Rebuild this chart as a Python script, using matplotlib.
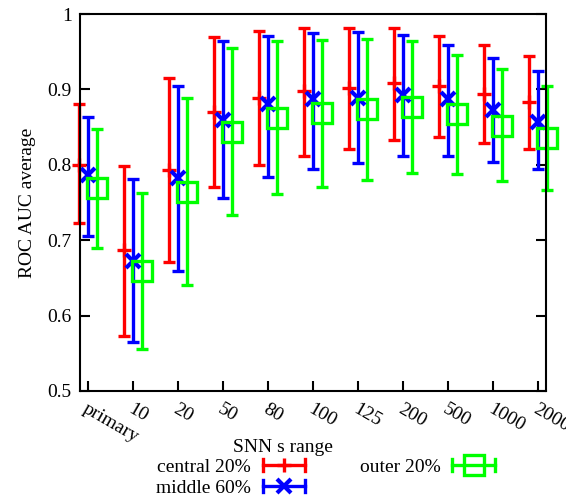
import matplotlib
matplotlib.use("Agg")
import matplotlib.pyplot as plt
import numpy as np
from matplotlib.lines import Line2D
from matplotlib.legend_handler import HandlerBase

plt.rcParams['font.family'] = ['Liberation Serif', 'DejaVu Serif']
plt.rcParams['font.size'] = 14

categories = ["primary", "10", "20", "50", "80", "100", "125", "200", "500", "1000", "2000"]

central_mean = [0.800, 0.687, 0.793, 0.870, 0.889, 0.898, 0.902, 0.908, 0.904, 0.894, 0.883]
central_low = [0.723, 0.573, 0.671, 0.771, 0.800, 0.812, 0.821, 0.833, 0.837, 0.829, 0.821]
central_high = [0.881, 0.799, 0.915, 0.969, 0.978, 0.981, 0.981, 0.981, 0.971, 0.959, 0.944]

middle_mean = [0.787, 0.673, 0.783, 0.859, 0.880, 0.887, 0.889, 0.893, 0.887, 0.873, 0.857]
middle_low = [0.705, 0.565, 0.659, 0.756, 0.784, 0.794, 0.802, 0.812, 0.812, 0.804, 0.794]
middle_high = [0.864, 0.781, 0.904, 0.964, 0.971, 0.975, 0.976, 0.972, 0.959, 0.941, 0.924]

outer_mean = [0.769, 0.659, 0.764, 0.844, 0.862, 0.869, 0.874, 0.877, 0.867, 0.852, 0.836]
outer_low = [0.689, 0.556, 0.641, 0.733, 0.761, 0.771, 0.780, 0.789, 0.788, 0.779, 0.767]
outer_high = [0.848, 0.762, 0.888, 0.955, 0.964, 0.966, 0.967, 0.964, 0.945, 0.927, 0.905]

y_ticks = [0.5, 0.6, 0.7, 0.8, 0.9, 1.0]
y_tick_labels = ["0.5", "0.6", "0.7", "0.8", "0.9", "1"]

series = [
    ("central 20%", central_mean, central_low, central_high, "#ff0000", "+", -0.2,
     dict(markersize=10, markeredgewidth=2.4)),
    ("middle 60%", middle_mean, middle_low, middle_high, "#0000ff", "x", 0.0,
     dict(markersize=10, markeredgewidth=3.0)),
    ("outer 20%", outer_mean, outer_low, outer_high, "#00ff00", "s", 0.2,
     dict(markersize=14, markeredgewidth=2.4, markerfacecolor="none")),
]


class HorizontalErrorHandler(HandlerBase):
    """Legend sample drawn as a horizontal error bar with caps and a marker."""

    def __init__(self, color, marker, mkw):
        super().__init__()
        self.color = color
        self.marker = marker
        self.mkw = mkw

    def create_artists(self, legend, orig_handle, xdescent, ydescent, width,
                       height, fontsize, trans):
        yc = height / 2 - ydescent
        x0, x1 = -xdescent, width - xdescent
        cap = height * 0.45
        arts = [
            Line2D([x0, x1], [yc, yc], color=self.color, lw=2.4),
            Line2D([x0, x0], [yc - cap, yc + cap], color=self.color, lw=2.4),
            Line2D([x1, x1], [yc - cap, yc + cap], color=self.color, lw=2.4),
            Line2D([(x0 + x1) / 2], [yc], color=self.color, marker=self.marker,
                   linestyle="none", **self.mkw),
        ]
        for a in arts:
            a.set_transform(trans)
        return arts


fig = plt.figure(figsize=(5.66, 4.97), dpi=100)
ax = fig.add_axes([0.1413, 0.2133, 0.8234, 0.7585])

x = np.arange(len(categories))
handles = []
handler_map = {}
for label, mean, low, high, color, marker, offset, mkw in series:
    mean = np.array(mean)
    yerr = np.vstack([mean - np.array(low), np.array(high) - mean])
    eb = ax.errorbar(x + offset, mean, yerr=yerr, fmt="none", ecolor=color,
                     elinewidth=2.4, capsize=4, capthick=2.4)
    for art in eb.lines[1] + eb.lines[2]:
        art.set_clip_on(False)
    ax.plot(x + offset, mean, linestyle="none", marker=marker, color=color,
            clip_on=False, zorder=3, **mkw)
    h = Line2D([], [], color=color, label=label)
    handles.append(h)
    handler_map[h] = HorizontalErrorHandler(color, marker, mkw)

ax.set_xlim(-0.185, 10.17)
ax.set_ylim(0.5, 1.0)
ax.set_yticks(y_ticks)
ax.set_yticklabels(y_tick_labels)
ax.set_xticks(x)
ax.set_xticklabels(categories, rotation=-30, ha="left", va="top",
                   rotation_mode="anchor")
ax.tick_params(axis="y", direction="in", length=7, width=1.5, left=True, right=True,
               labelsize=14, pad=6)
ax.tick_params(axis="x", direction="in", length=7, width=1.5, bottom=True, top=False,
               labelsize=14, pad=7)
for s in ax.spines.values():
    s.set_linewidth(1.5)
    s.set_zorder(5)

ax.set_ylabel("ROC AUC average", fontsize=14, labelpad=8)
ax.set_xlabel("SNN s range", fontsize=14)
ax.xaxis.set_label_coords(0.5, 0.1006, transform=fig.transFigure)
ax.xaxis.label.set_va("center")

fig.legend(handles=handles, handler_map=handler_map, ncol=2, frameon=False,
           markerfirst=False, fontsize=14, loc="center",
           bbox_to_anchor=(0.575, 0.039), handlelength=2.2, handletextpad=0.6,
           columnspacing=2.8, labelspacing=0.15, borderpad=0.1)

fig.savefig("out.png", dpi=100)
